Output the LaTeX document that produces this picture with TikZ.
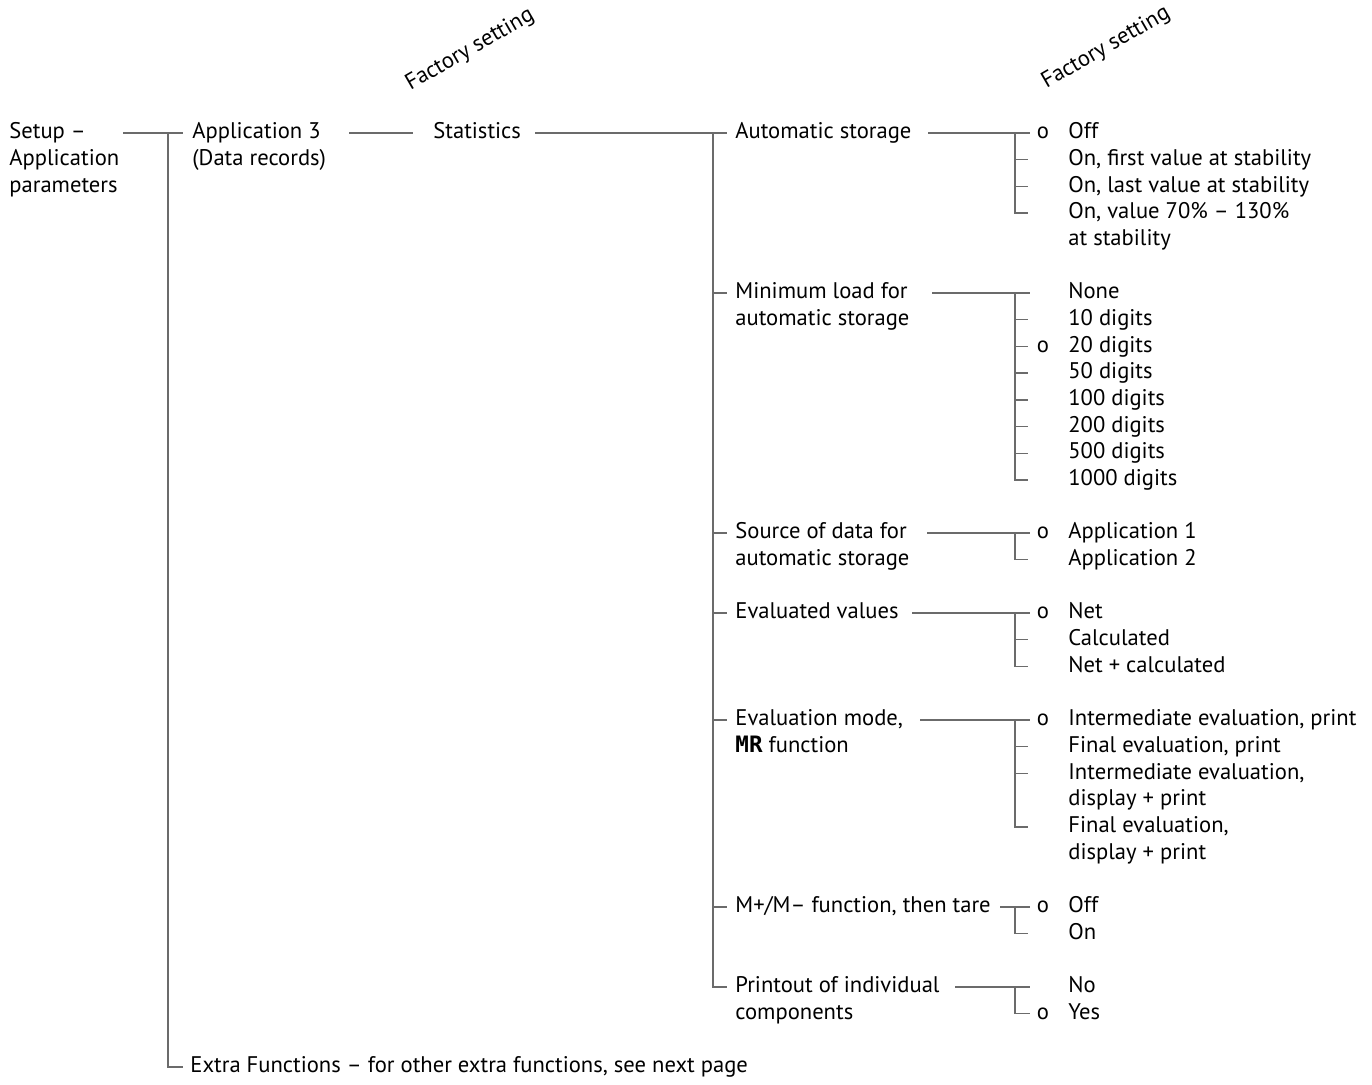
\documentclass[tikz,border=0pt]{standalone}
\usepackage{fontspec}
\setmainfont{PT Sans}
\newfontfamily\lcdfont{DejaVu Sans Mono}
\usetikzlibrary{calc}

\definecolor{linegray}{gray}{0.42}
\newcommand\txtfont{\fontsize{11.3pt}{13.35pt}\selectfont}
\newcommand\ml[1]{\begin{tabular}[t]{@{}l@{}}#1\end{tabular}}

\begin{document}
\begin{tikzpicture}[x=0.5pt, y=-0.5pt,
    lbl/.style={anchor=west, inner sep=0pt, text height=5.6pt, text depth=0pt, font=\txtfont},
    dflt/.style={anchor=center, inner sep=0pt, text height=5.6pt, text depth=0pt, font=\txtfont},
    conn/.style={draw=linegray, line width=0.7pt},
    head/.style={rotate=30, inner sep=0pt, font=\txtfont}]
    \useasboundingbox (0,0) rectangle (1372,1084);

    % Factory setting headings
    \node[head] (fs1) at (470,50) {Factory setting};
    \node[head] (fs2) at (1106,48) {Factory setting};

    % Level 1 and 2
    \node[lbl] (setup) at (9,133) {\ml{Setup –\\Application\\parameters}};
    \node[lbl] (app) at (192,133) {\ml{Application 3\\(Data records)}};
    \node[lbl] (stat) at (433,133) {Statistics};
    \node[lbl] (extra) at (190,1067) {Extra Functions – for other extra functions, see next page};
    \coordinate (j1) at (168,133);
    \draw[conn] ($(j1)+(-45,0)$) -- ($(app.west)+(-9,0)$);
    \draw[conn] (j1) |- ($(extra.west)+(-7,0)$);
    \draw[conn] ($(stat.west)+(-84,0)$) -- ($(stat.west)+(-20,0)$);

    % Level 3: parameters of Statistics
    \node[lbl] (auto) at (735,133) {Automatic storage};
    \node[lbl] (minload) at (735,293) {\ml{Minimum load for\\automatic storage}};
    \node[lbl] (source) at (735,533) {\ml{Source of data for\\automatic storage}};
    \node[lbl] (evalv) at (735,613) {Evaluated values};
    \node[lbl] (evalm) at (735,720) {\ml{Evaluation mode,\\{\lcdfont\bfseries MR} function}};
    \node[lbl] (mpm) at (735,907) {M+/M– function, then tare};
    \node[lbl] (prnt) at (735,987) {\ml{Printout of individual\\components}};
    \coordinate (j2) at (713,133);
    \draw[conn] ($(stat.east)+(14,0)$) -- ($(auto.west)+(-8,0)$);
    \draw[conn] (j2) |- ($(prnt.west)+(-8,0)$);
    \foreach \n in {minload,source,evalv,evalm,mpm}
        \draw[conn] (j2 |- \n.west) -- ($(\n.west)+(-8,0)$);

    % Automatic storage
    \foreach \t [count=\i] in {Off,{On, first value at stability},{On, last value at stability},{\ml{On, value 70\% – 130\%\\at stability}}}
        \node[lbl] (a\i) at (1068,{133+26.7*(\i-1)}) {\t};
    \node[dflt] (ao) at (1043,133) {o};
    \coordinate (va) at (1015,133);
    \draw[conn] ($(va)+(-87,0)$) -- ($(va)+(15,0)$);
    \draw[conn] (va) |- ($(a4.west)+(-40,0)$);
    \foreach \n in {a2,a3} \draw[conn] (va |- \n.west) -- ($(\n.west)+(-40,0)$);

    % Minimum load
    \foreach \t [count=\i] in {None,10 digits,20 digits,50 digits,100 digits,200 digits,500 digits,1000 digits}
        \node[lbl] (m\i) at (1068,{293+26.7*(\i-1)}) {\t};
    \node[dflt] (mo) at (1043,346.4) {o};
    \coordinate (vm) at (1015,293);
    \draw[conn] ($(vm)+(-83,0)$) -- ($(vm)+(15,0)$);
    \draw[conn] (vm) |- ($(m8.west)+(-40,0)$);
    \foreach \n in {m2,m3,m4,m5,m6,m7} \draw[conn] (vm |- \n.west) -- ($(\n.west)+(-40,0)$);

    % Source of data
    \node[lbl] (s1) at (1068,533) {Application 1};
    \node[lbl] (s2) at (1068,559.7) {Application 2};
    \node[dflt] (so) at (1043,533) {o};
    \coordinate (vs) at (1015,533);
    \draw[conn] ($(vs)+(-88,0)$) -- ($(vs)+(15,0)$);
    \draw[conn] (vs) |- ($(s2.west)+(-40,0)$);

    % Evaluated values
    \foreach \t [count=\i] in {Net,Calculated,Net + calculated}
        \node[lbl] (v\i) at (1068,{613+26.7*(\i-1)}) {\t};
    \node[dflt] (vo) at (1043,613) {o};
    \coordinate (vv) at (1015,613);
    \draw[conn] ($(vv)+(-103,0)$) -- ($(vv)+(15,0)$);
    \draw[conn] (vv) |- ($(v3.west)+(-40,0)$);
    \draw[conn] (vv |- v2.west) -- ($(v2.west)+(-40,0)$);

    % Evaluation mode
    \node[lbl] (e1) at (1068,720) {Intermediate evaluation, print};
    \node[lbl] (e2) at (1068,746.7) {Final evaluation, print};
    \node[lbl] (e3) at (1068,773.4) {\ml{Intermediate evaluation,\\display + print}};
    \node[lbl] (e4) at (1068,826.8) {\ml{Final evaluation,\\display + print}};
    \node[dflt] (eo) at (1043,720) {o};
    \coordinate (ve) at (1015,720);
    \draw[conn] ($(ve)+(-95,0)$) -- ($(ve)+(15,0)$);
    \draw[conn] (ve) |- ($(e4.west)+(-40,0)$);
    \foreach \n in {e2,e3} \draw[conn] (ve |- \n.west) -- ($(\n.west)+(-40,0)$);

    % M+/M- function
    \node[lbl] (p1) at (1068,907) {Off};
    \node[lbl] (p2) at (1068,933.7) {On};
    \node[dflt] (po) at (1043,907) {o};
    \coordinate (vp) at (1015,907);
    \draw[conn] ($(vp)+(-15,0)$) -- ($(vp)+(15,0)$);
    \draw[conn] (vp) |- ($(p2.west)+(-40,0)$);

    % Printout of individual components
    \node[lbl] (r1) at (1068,987) {No};
    \node[lbl] (r2) at (1068,1013.7) {Yes};
    \node[dflt] (ro) at (1043,1013.7) {o};
    \coordinate (vr) at (1015,987);
    \draw[conn] ($(vr)+(-60,0)$) -- ($(vr)+(15,0)$);
    \draw[conn] (vr) |- ($(r2.west)+(-38,0)$);
\end{tikzpicture}
\end{document}
